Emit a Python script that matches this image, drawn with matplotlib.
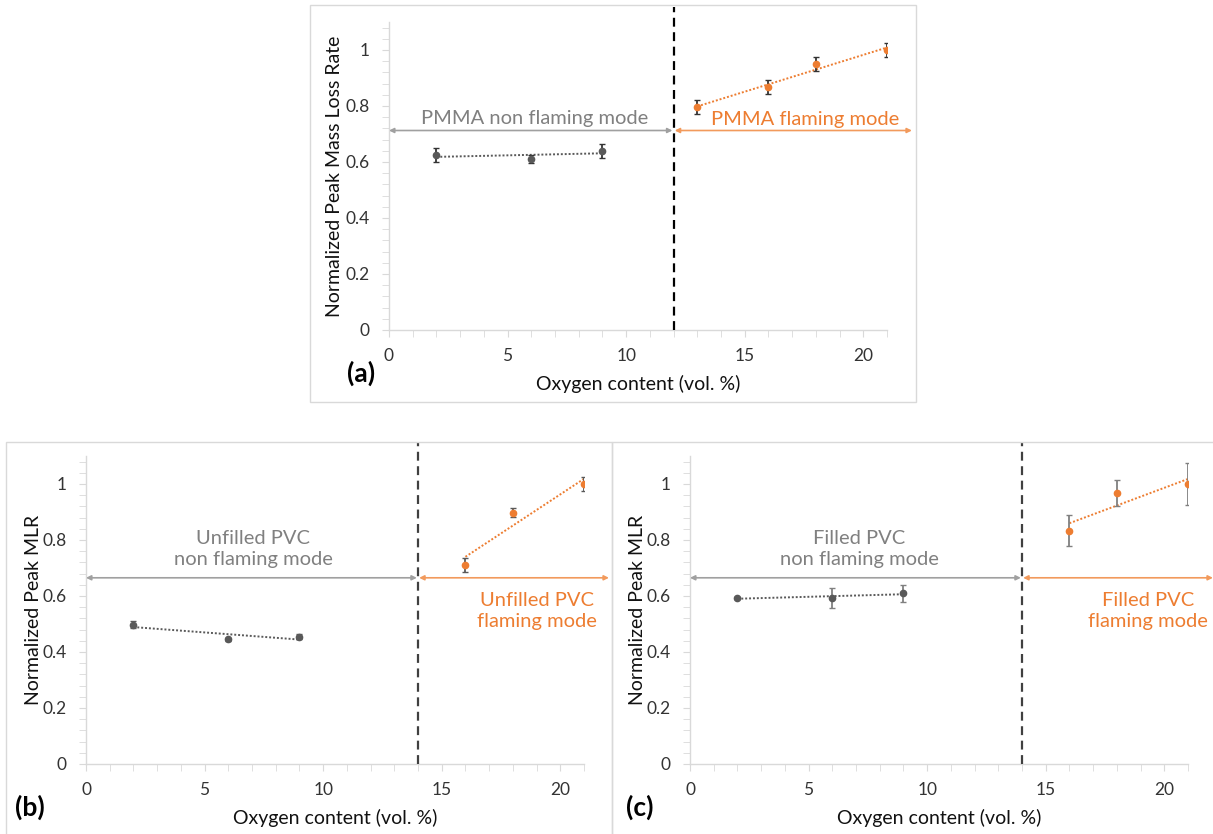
import numpy as np
import matplotlib
matplotlib.use("Agg")
import matplotlib.pyplot as plt
from matplotlib.patches import Rectangle
from matplotlib.ticker import MultipleLocator

plt.rcParams['font.family'] = ['Lato', 'DejaVu Sans']

# ---------------- data ----------------
a_x_non = [2, 6, 9]
a_y_non = [0.625, 0.61, 0.64]
a_e_non = [0.025, 0.015, 0.025]
a_x_fl = [13, 16, 18, 21]
a_y_fl = [0.797, 0.868, 0.95, 1.0]
a_e_fl = [0.024, 0.025, 0.025, 0.025]

b_x_non = [2, 6, 9]
b_y_non = [0.497, 0.445, 0.455]
b_e_non = [0.012, 0.005, 0.008]
b_x_fl = [16, 18, 21]
b_y_fl = [0.712, 0.898, 1.0]
b_e_fl = [0.025, 0.015, 0.025]

c_x_non = [2, 6, 9]
c_y_non = [0.593, 0.593, 0.61]
c_e_non = [0.003, 0.035, 0.03]
c_x_fl = [16, 18, 21]
c_y_fl = [0.833, 0.968, 1.0]
c_e_fl = [0.055, 0.045, 0.075]

y_ticks = [0, 0.2, 0.4, 0.6, 0.8, 1.0]
y_tick_labels = ["0", "0.2", "0.4", "0.6", "0.8", "1"]
x_ticks = [0, 5, 10, 15, 20]
x_tick_labels = ["0", "5", "10", "15", "20"]

GRAY_PT = '#595959'
ORANGE = '#ED7D31'
GRAY_TXT = '#808080'
GRAY_ARROW = '#A0A0A0'
ORANGE_ARROW = '#F29A5C'
AXIS_C = '#D9D9D9'

W, H = 1213, 834
fig = plt.figure(figsize=(W / 100, H / 100), dpi=100)

# panel borders
for (l, b, w, h) in [(310 / W, 1 - 402 / H, 606 / W, 397 / H),
                     (6 / W, -0.01, 606 / W, 1 - 442 / H + 0.01),
                     (612 / W, -0.01, 0.5, 1 - 442 / H + 0.01)]:
    fig.add_artist(Rectangle((l, b), w, h, transform=fig.transFigure,
                             fill=False, edgecolor='#D9D9D9', lw=1.0))

ax_w = 498 / W
ax_h = 308 / H


def make_panel(left_px, bottom_px, xs_non, ys_non, es_non, xs_fl, ys_fl, es_fl,
               split_x, arrow_y, ylabel, txt_non, txt_fl, pos_non, pos_fl,
               panel_lbl, lbl_pos, dash_color, err_color, dash_top, ylpad):
    ax = fig.add_axes([left_px / W, 1 - bottom_px / H, ax_w, ax_h])
    ax.set_xlim(0, 21)
    ax.set_ylim(0, 1.1)
    for s in ['top', 'right']:
        ax.spines[s].set_visible(False)
    for s in ['left', 'bottom']:
        ax.spines[s].set_color(AXIS_C)
        ax.spines[s].set_linewidth(1.0)
    ax.set_xticks(x_ticks)
    ax.set_xticklabels(x_tick_labels)
    ax.set_yticks(y_ticks)
    ax.set_yticklabels(y_tick_labels)
    ax.xaxis.set_minor_locator(MultipleLocator(1))
    ax.yaxis.set_minor_locator(MultipleLocator(0.04))
    ax.tick_params(axis='both', which='both', color=AXIS_C, direction='out',
                   labelsize=12.5, labelcolor='#333333', length=5)
    ax.tick_params(axis='x', which='major', pad=8)
    ax.tick_params(axis='y', which='major', pad=9)

    # trend lines (linear fits of each series)
    for xs, ys, c in [(xs_non, ys_non, GRAY_PT), (xs_fl, ys_fl, ORANGE)]:
        p = np.polyfit(xs, ys, 1)
        xx = np.array([min(xs), max(xs)])
        ax.plot(xx, np.polyval(p, xx), color=c, lw=1.4, ls=(0, (1, 1)), zorder=2)

    ax.errorbar(xs_non, ys_non, yerr=es_non, fmt='o', color=GRAY_PT, ms=4.5,
                ecolor=err_color, elinewidth=1.3, capsize=2.5, capthick=1.0, zorder=3)
    ax.errorbar(xs_fl, ys_fl, yerr=es_fl, fmt='o', color=ORANGE, ms=4.5,
                ecolor=err_color, elinewidth=1.3, capsize=2.5, capthick=1.0, zorder=3)

    # dashed split line
    ax.plot([split_x, split_x], [0, dash_top], transform=ax.get_xaxis_transform(),
            color=dash_color, lw=1.6, ls=(0, (4, 2.5)), clip_on=False, zorder=4)

    # arrows
    ax.annotate('', xy=(0, arrow_y), xytext=(split_x - 0.05, arrow_y),
                arrowprops=dict(arrowstyle='<|-|>', color=GRAY_ARROW, lw=1.2,
                                mutation_scale=7, shrinkA=0, shrinkB=0),
                annotation_clip=False)
    ax.annotate('', xy=(split_x + 0.05, arrow_y), xytext=(22.05, arrow_y),
                arrowprops=dict(arrowstyle='<|-|>', color=ORANGE_ARROW, lw=1.2,
                                mutation_scale=7, shrinkA=0, shrinkB=0),
                annotation_clip=False)

    ax.text(pos_non[0], pos_non[1], txt_non, color=GRAY_TXT, fontsize=14.5,
            ha='center', va='center', linespacing=1.25)
    ax.text(pos_fl[0], pos_fl[1], txt_fl, color=ORANGE, fontsize=14.5,
            ha='center', va='center', linespacing=1.25, clip_on=False)

    ax.set_xlabel('Oxygen content (vol. %)', fontsize=14, color='#111111', labelpad=8)
    ax.set_ylabel(ylabel, fontsize=14, color='#111111', labelpad=ylpad)

    fig.text(lbl_pos[0] / W, 1 - lbl_pos[1] / H, panel_lbl, fontsize=19,
             fontweight='bold', ha='center', va='center', color='black')
    return ax


make_panel(389, 330, a_x_non, a_y_non, a_e_non, a_x_fl, a_y_fl, a_e_fl,
           12, 0.7125, 'Normalized Peak Mass Loss Rate',
           'PMMA non flaming mode', 'PMMA flaming mode',
           (6.15, 0.755), (17.55, 0.752), '(a)', (361, 373),
           'black', '#333333', 1.048, 2)

make_panel(86, 764, b_x_non, b_y_non, b_e_non, b_x_fl, b_y_fl, b_e_fl,
           14, 0.665, 'Normalized Peak MLR',
           'Unfilled PVC\nnon flaming mode', 'Unfilled PVC\nflaming mode',
           (7.05, 0.768), (19.03, 0.547), '(b)', (30, 807),
           '#404040', '#595959', 1.043, 0)

make_panel(690, 764, c_x_non, c_y_non, c_e_non, c_x_fl, c_y_fl, c_e_fl,
           14, 0.665, 'Normalized Peak MLR',
           'Filled PVC\nnon flaming mode', 'Filled PVC\nflaming mode',
           (7.13, 0.768), (19.3, 0.547), '(c)', (640, 807),
           '#404040', '#808080', 1.043, 0)

fig.savefig('out.png', dpi=100)
